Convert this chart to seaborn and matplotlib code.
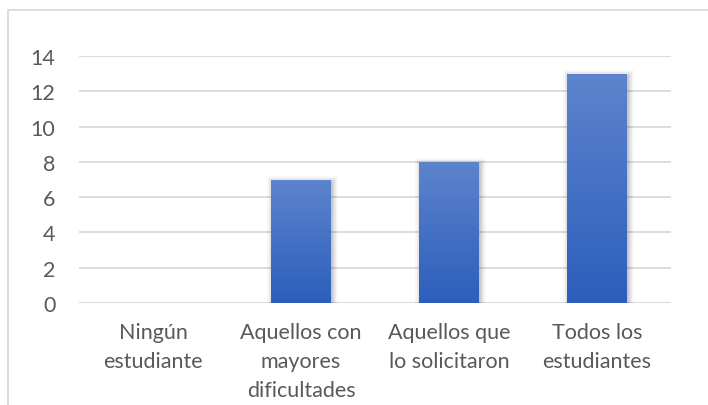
import numpy as np
import matplotlib
matplotlib.use('Agg')
import matplotlib.pyplot as plt
import matplotlib.patheffects as pe
from matplotlib.patches import Rectangle
import seaborn as sns

# Chart data
categories = ['Ningún\nestudiante', 'Aquellos con\nmayores\ndificultades',
              'Aquellos que\nlo solicitaron', 'Todos los\nestudiantes']
values = [0, 7, 8, 13]
y_ticks = [0, 2, 4, 6, 8, 10, 12, 14]

sns.set_style('white')
plt.rcParams['font.family'] = ['Lato', 'DejaVu Sans']

fig = plt.figure(figsize=(7.08, 4.06), dpi=100)
ax = fig.add_axes([79 / 708, 1 - 304 / 406, 592 / 708, 247 / 406])

# chart frame (light grey border, runs off the picture right and bottom)
fig.patches.append(Rectangle((8 / 708, -0.1), 1.2, 1 - 11 / 406 + 0.1,
                             transform=fig.transFigure, fill=False,
                             edgecolor='#d9d9d9', linewidth=1.3, zorder=0))

sns.barplot(x=list(range(len(values))), y=values, ax=ax, width=0.405,
            color='#4472c4', saturation=1, linewidth=0, zorder=3)

# gradient fill + soft blurred shadow like the original
grad = np.linspace(0, 1, 256).reshape(-1, 1)
cmap = matplotlib.colors.LinearSegmentedColormap.from_list('g', ['#2c5ebb', '#5d84cd'])
for bar in ax.patches:
    x0, y0 = bar.get_x(), bar.get_y()
    w, h = bar.get_width(), bar.get_height()
    if h <= 0:
        continue
    bar.set_path_effects([
        pe.Stroke(offset=(0.5, -1), linewidth=8, foreground='#000000', alpha=0.03),
        pe.Stroke(offset=(0.5, -1), linewidth=5, foreground='#000000', alpha=0.05),
        pe.Stroke(offset=(0.5, -1), linewidth=2.5, foreground='#000000', alpha=0.08),
        pe.Normal()])
    im = ax.imshow(grad, extent=[x0, x0 + w, y0, y0 + h], origin='lower',
                   cmap=cmap, aspect='auto', zorder=4)
    im.set_clip_path(bar)

ax.set_xlim(-0.5, len(values) - 0.5)
ax.set_ylim(0, 14)
ax.set_yticks(y_ticks)
ax.set_xticks(range(len(values)))
ax.set_xticklabels(categories, linespacing=1.55)
ax.yaxis.grid(True, color='#d9d9d9', linewidth=1.3, zorder=0)
ax.set_axisbelow(True)
for s in ax.spines.values():
    s.set_visible(False)
ax.axhline(0, color='#d9d9d9', linewidth=1.3, zorder=2)
ax.tick_params(axis='both', length=0, labelsize=15.5, colors='#595959')
ax.tick_params(axis='y', pad=17)
ax.tick_params(axis='x', pad=14)
ax.set_xlabel('')
ax.set_ylabel('')

fig.savefig('out.png', dpi=100)
